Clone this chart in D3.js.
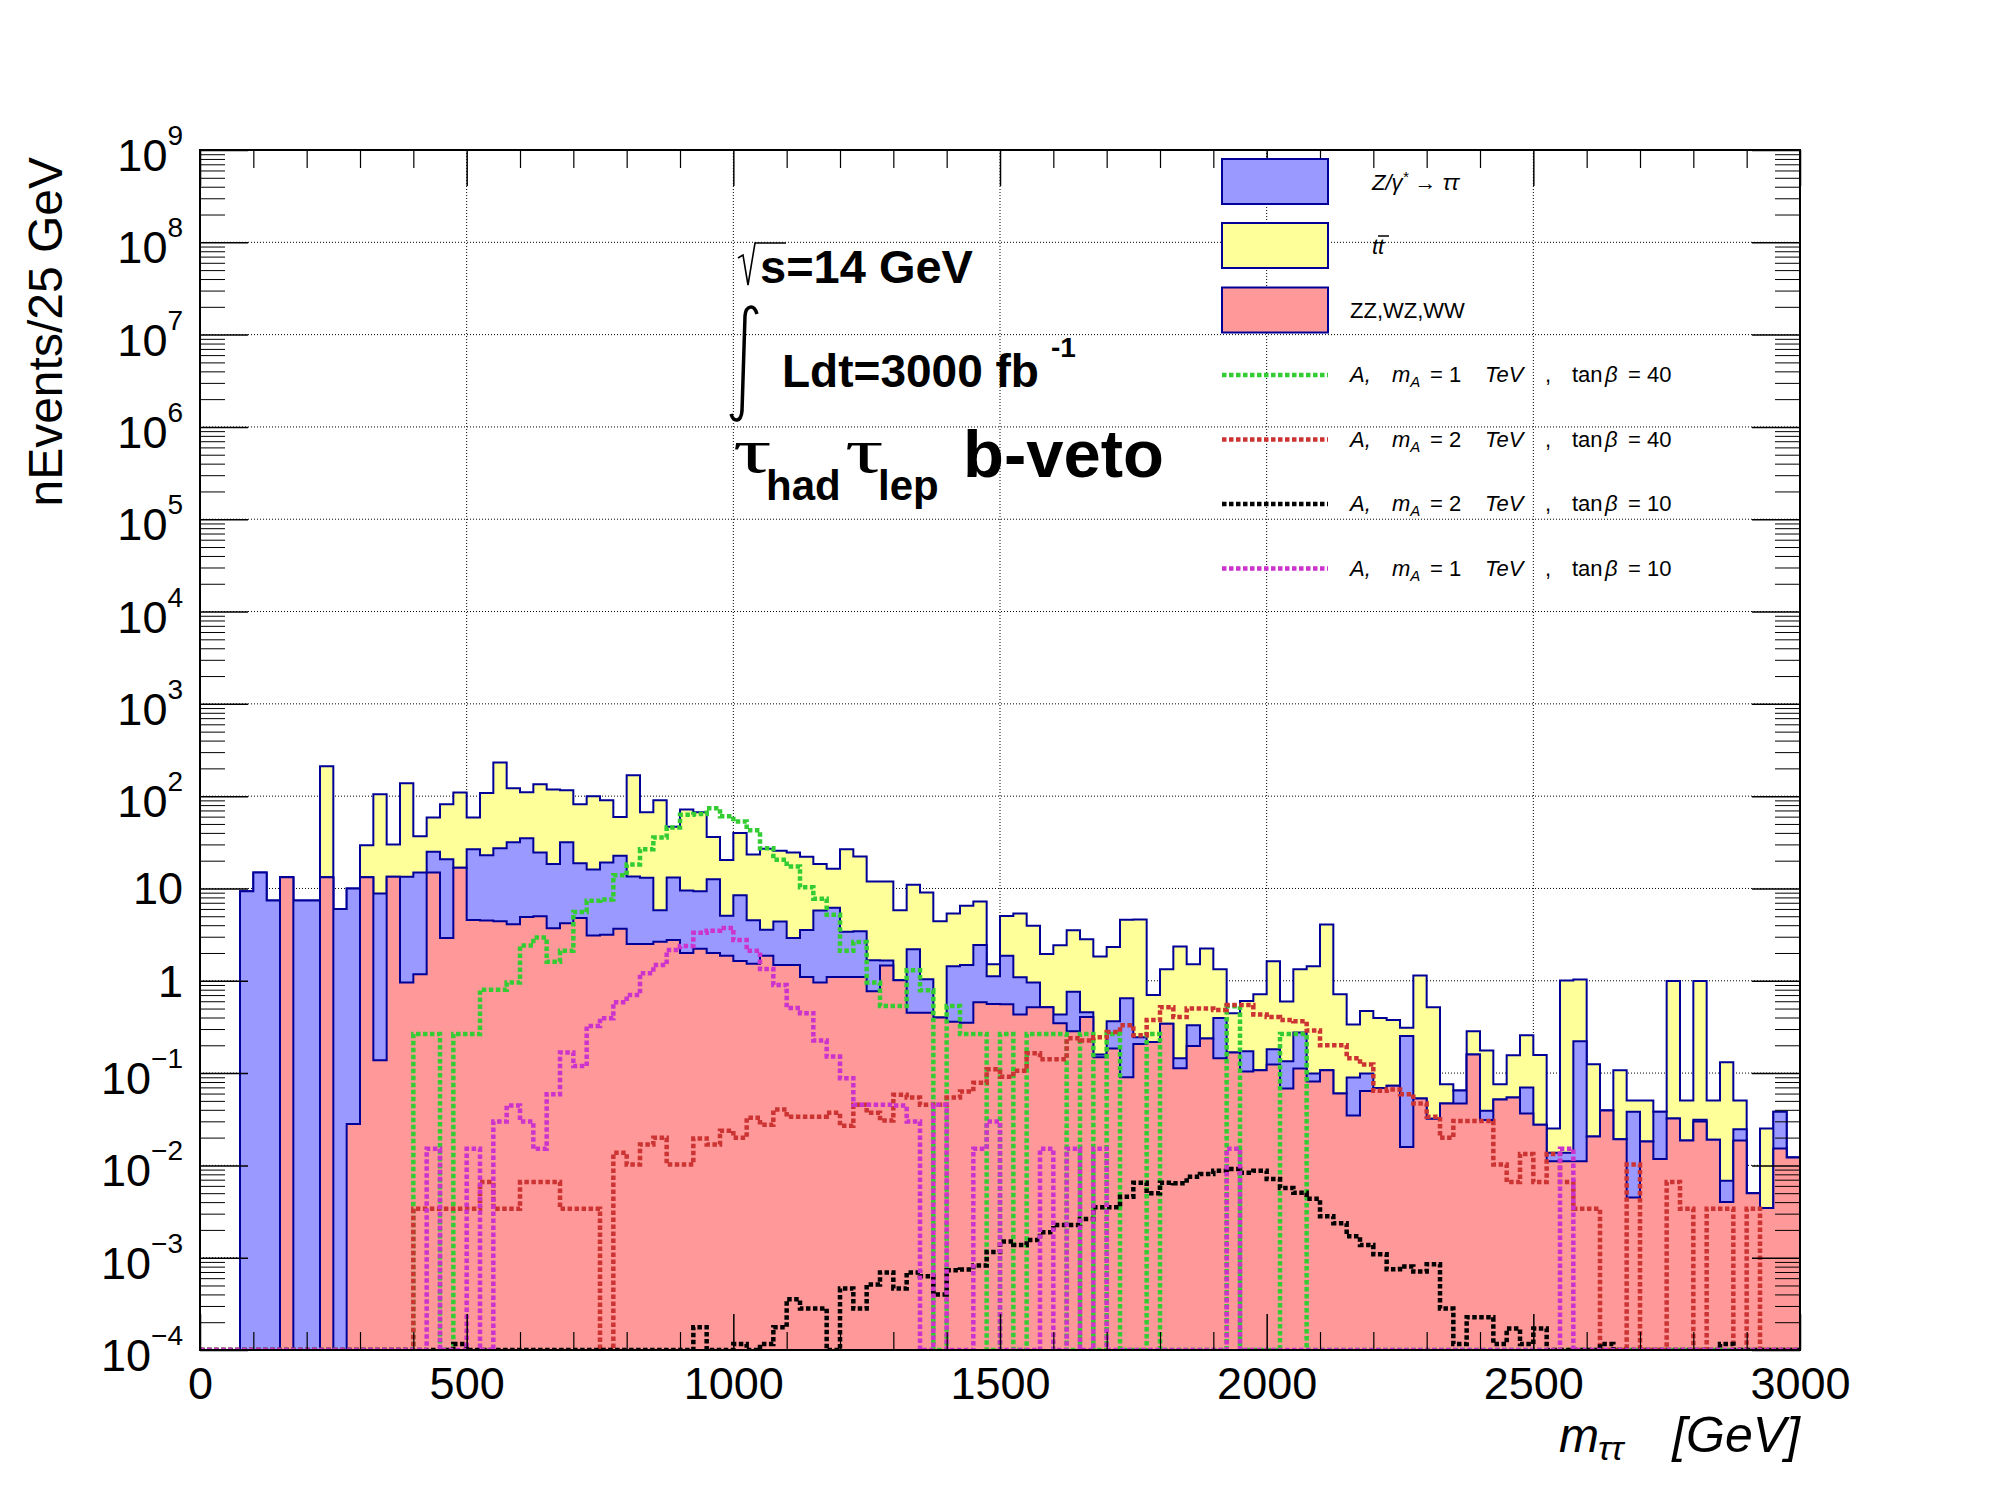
<!DOCTYPE html>
<html lang="en">

<head>
    <meta charset="UTF-8">
    <title>m_tautau b-veto</title>
    <script src="https://d3js.org/d3.v7.min.js"></script>
</head>
<style>
    body {
        margin: 0;
        background: #fff;
    }

    text {
        font-family: "Liberation Sans", Arial, sans-serif;
        fill: #000;
    }
</style>

<body>
    <div id="chart"></div>
    <script>
        // 25 GeV bins, 0 - 3000 GeV
        const binLow = d3.range(0, 3000, 25);

        // stacked backgrounds (events / bin)
        const dibosonVals = [
            0, 0, 0, 0, 0, 0, 13.2, 0, 0, 13.2,
            0, 0.028, 13.2, 0.138, 13.4, 0.96, 1.18, 14.9, 2.9, 16.8,
            4.56, 4.5, 4.4, 4.1, 4.9, 5.0, 3.7, 4.2, 4.8, 3.1,
            3.15, 3.66, 2.5, 2.5, 2.65, 2.76, 2.0, 2.22, 2.0, 1.87,
            1.64, 1.53, 1.87, 1.48, 1.48, 1.1, 0.96, 1.1, 1.1, 1.1,
            0.77, 1.46, 1.01, 0.45, 0.45, 0.40, 0.36, 0.35, 0.585, 0.56,
            0.556, 0.432, 0.518, 0.518, 0.347, 0.284, 0.404, 0.148, 0.185, 0.09,
            0.206, 0.217, 0.343, 0.113, 0.196, 0.237, 0.145, 0.167, 0.104, 0.107,
            0.124, 0.068, 0.112, 0.081, 0.107, 0.06, 0.0346, 0.064, 0.069, 0.073,
            0.0158, 0.0532, 0.032, 0.0468, 0.0468, 0.159, 0.031, 0.0516, 0.0543, 0.0364,
            0.0275, 0.0111, 0.0111, 0.0111, 0.0206, 0.0394, 0.0192, 0.0045, 0.0182, 0.0117,
            0.0322, 0.0186, 0.0298, 0.019, 0.004, 0.0186, 0.005, 0.00345, 0.0152, 0.0122
        ];
        const ztautauVals = [
            0, 0, 0, 9.3, 14.9, 7.4, 0, 7.4, 7.4, 0,
            6.0, 9.97, 0, 8.66, 0, 12.4, 13.7, 10.1, 17.8, 0,
            22, 18.4, 22.8, 27.5, 30, 19.5, 14.7, 27.4, 14, 12.9,
            16, 19, 11, 10.6, 3.15, 10.4, 7.5, 7.1, 10.6, 3.2,
            6.8, 3.0, 1.7, 2.9, 1.42, 2.45, 4.8, 5.1, 2.3, 2.34,
            0.9, 0.2, 0, 1.75, 0.59, 0, 1.08, 1.13, 1.86, 0.56,
            1.31, 0.66, 0.437, 0, 0.085, 0.475, 0.051, 0.011, 0.18, 0.556,
            0.038, 0, 0, 0.032, 0.134, 0, 0.25, 0, 0.068, 0,
            0.057, 0.066, 0.163, 0.018, 0, 0, 0.055, 0.035, 0, 0,
            0.236, 0, 0, 0, 0.018, 0, 0.008, 0, 0, 0.0334,
            0, 0.0026, 0.0026, 0.21, 0, 0, 0, 0.0337, 0, 0.0265,
            0, 0, 0.0015, 0, 0.0028, 0.006, 0, 0, 0.023, 0
        ];
        const ttbarVals = [
            0, 0, 0, 0, 0, 0, 0, 0, 0, 197,
            0, 0, 16.2, 96, 16.6, 125, 21.8, 33.8, 61, 93,
            32, 85, 205, 90, 75, 110, 100, 84, 63, 84,
            71, 36.7, 155, 54, 84.6, 33.5, 62, 57.7, 23.4, 15.3,
            31.4, 18.8, 23.3, 21.2, 21.6, 18.5, 12.6, 10.2, 23.2, 18.8,
            10.2, 10.2, 4.8, 8.8, 8.0, 4.0, 3.9, 5.0, 4.8, 0.39,
            3.18, 4.27, 3.0, 1.43, 2.0, 2.76, 2.37, 1.67, 1.95, 3.95,
            4.36, 0.483, 0.99, 2.2, 1.18, 2.0, 0.935, 0.279, 0.431, 0.607,
            1.45, 0.462, 1.06, 1.34, 3.97, 0.654, 0.247, 0.37, 0.326, 0.303,
            0.058, 1.09, 0.486, 0.029, 0, 0.125, 0.137, 0.024, 0.102, 0.187,
            0.129, 0.0114, 0.996, 0.814, 0.104, 0, 0.088, 0.0124, 0.0324, 0,
            0.961, 0.032, 0.962, 0.0316, 0.124, 0.026, 0, 0.0217, 0, 0
        ];

        // signal A -> tautau
        const sigM1Tb40 = [
            0, 0, 0, 0, 0, 0, 0, 0, 0, 0,
            0, 0, 0, 0, 0, 0, 0.265, 0.265, 0, 0.265,
            0.265, 0.798, 0.798, 0.957, 2.41, 2.94, 1.61, 2.11, 5.57, 7.38,
            7.6, 13.9, 18.2, 26.6, 35.6, 45.8, 63, 64, 74, 60.5,
            53.2, 42.7, 27.2, 20.5, 17.3, 10.3, 7.76, 5.2, 2.11, 2.63,
            0.957, 0.533, 0.533, 1.3, 0.789, 0, 0.533, 0.265, 0.265, 0,
            0.265, 0, 0.265, 0.265, 0.265, 0, 0.265, 0, 0.265, 0,
            0, 0.265, 0, 0, 0, 0, 0, 0.53, 0, 0,
            0, 0.265, 0.265, 0, 0, 0, 0, 0, 0, 0,
            0, 0, 0, 0, 0, 0, 0, 0, 0, 0,
            0, 0, 0, 0, 0, 0, 0, 0, 0, 0,
            0, 0, 0, 0, 0, 0, 0, 0, 0, 0
        ];
        const sigM2Tb40 = [
            0, 0, 0, 0, 0, 0, 0, 0, 0, 0,
            0, 0, 0, 0, 0, 0, 0.00338, 0.00338, 0.00338, 0.00338,
            0.00338, 0.0066, 0.00338, 0.00338, 0.0066, 0.0066, 0.0066, 0.00338, 0.00338, 0.00338,
            0, 0.0137, 0.0102, 0.0168, 0.0199, 0.0102, 0.0102, 0.0196, 0.0168, 0.0237,
            0.0199, 0.0329, 0.0275, 0.0402, 0.0336, 0.0336, 0.0336, 0.0371, 0.0269, 0.0454,
            0.0371, 0.0307, 0.0582, 0.0543, 0.0454, 0.0454, 0.0543, 0.0631, 0.0787, 0.11,
            0.0914, 0.106, 0.164, 0.141, 0.141, 0.239, 0.225, 0.244, 0.279, 0.330,
            0.257, 0.376, 0.518, 0.404, 0.502, 0.502, 0.483, 0.545, 0.545, 0.432,
            0.404, 0.376, 0.365, 0.290, 0.200, 0.200, 0.145, 0.124, 0.0644, 0.0664,
            0.0589, 0.0468, 0.0336, 0.0199, 0.0303, 0.0303, 0.0303, 0.0102, 0.0066, 0.0133,
            0.0066, 0.0133, 0.0066, 0.00338, 0.00338, 0, 0, 0.0102, 0, 0,
            0.0066, 0.00338, 0, 0.00338, 0.00338, 0, 0.00338, 0, 0, 0
        ];
        const sigM2Tb10 = [
            0, 0, 0, 0, 0, 0, 0, 0, 0, 0,
            0, 0, 0, 0, 0, 0, 0, 0, 0, 1.16e-4,
            0, 0, 0, 0, 0, 0, 0, 0, 0, 0,
            0, 0, 0, 0, 0, 0, 0, 1.76e-4, 0, 0,
            1.16e-4, 0, 1.16e-4, 1.76e-4, 3.54e-4, 2.81e-4, 2.81e-4, 0, 4.65e-4, 2.81e-4,
            5.13e-4, 6.93e-4, 4.65e-4, 6.93e-4, 6.28e-4, 4.0e-4, 7.3e-4, 7.45e-4, 8.23e-4, 1.15e-3,
            1.50e-3, 1.37e-3, 1.55e-3, 1.89e-3, 2.26e-3, 2.26e-3, 2.63e-3, 3.52e-3, 3.52e-3, 4.57e-3,
            6.49e-3, 5.0e-3, 6.49e-3, 6.42e-3, 7.54e-3, 8.09e-3, 8.77e-3, 9.12e-3, 8.34e-3, 8.77e-3,
            7.1e-3, 5.69e-3, 5.04e-3, 4.34e-3, 2.82e-3, 2.36e-3, 1.71e-3, 1.37e-3, 1.09e-3, 7.5e-4,
            8.05e-4, 7.08e-4, 8.48e-4, 2.81e-4, 1.16e-4, 2.26e-4, 2.26e-4, 1.16e-4, 1.71e-4, 1.16e-4,
            1.71e-4, 0, 0, 0, 0, 1.16e-4, 0, 0, 0, 0,
            0, 0, 0, 0, 1.16e-4, 0, 0, 0, 0, 0
        ];
        const sigM1Tb10 = [
            0, 0, 0, 0, 0, 0, 0, 0, 0, 0,
            0, 0, 0, 0, 0, 0, 0, 0.0151, 0, 0,
            0.0151, 0, 0.0298, 0.0445, 0.0298, 0.0151, 0.0589, 0.167, 0.119, 0.324,
            0.392, 0.585, 0.70, 1.21, 1.48, 2.15, 2.38, 3.31, 3.48, 3.74,
            2.76, 2.11, 1.34, 0.90, 0.508, 0.446, 0.225, 0.151, 0.0879, 0.0454,
            0.0454, 0.0454, 0.0445, 0.0298, 0, 0.0454, 0, 0, 0.0151, 0.0298,
            0, 0, 0, 0.0151, 0, 0.0151, 0, 0.0151, 0, 0,
            0, 0, 0, 0, 0, 0, 0, 0.0151, 0, 0,
            0, 0, 0, 0, 0, 0, 0, 0, 0, 0,
            0, 0, 0, 0, 0, 0, 0, 0, 0, 0,
            0, 0, 0.0151, 0, 0, 0, 0, 0, 0, 0,
            0, 0, 0, 0, 0, 0, 0, 0, 0, 0
        ];

        // axis ticks
        const massTicks = [0, 500, 1000, 1500, 2000, 2500, 3000];
        const massTickLabels = ["0", "500", "1000", "1500", "2000", "2500", "3000"];
        const massMinorTicks = d3.range(0, 3001, 100).filter(d => d % 500 !== 0);
        const decadeExponents = [-4, -3, -2, -1, 0, 1, 2, 3, 4, 5, 6, 7, 8, 9];

        const margin = { top: 150, right: 200, bottom: 150, left: 200 },
            width = 2000 - margin.left - margin.right,
            height = 1500 - margin.top - margin.bottom;

        const svg = d3.select("#chart")
            .append("svg")
            .attr("width", 2000)
            .attr("height", 1500);

        svg.append("defs").append("clipPath").attr("id", "frameClip")
            .append("rect").attr("x", 0).attr("y", 0).attr("width", width).attr("height", height);

        const plot = svg.append("g")
            .attr("transform", "translate(" + margin.left + "," + margin.top + ")");

        const x = d3.scaleLinear().domain([0, 3000]).range([0, width]);
        const yMin = 1e-4;
        const y = d3.scaleLog().domain([yMin, 1e9]).range([height, 0]);

        // grid (dotted)
        const grid = plot.append("g");
        grid.selectAll(".vgrid").data(massTicks.slice(1, -1)).join("line")
            .attr("x1", d => x(d)).attr("x2", d => x(d))
            .attr("y1", 0).attr("y2", height)
            .attr("stroke", "#000").attr("stroke-width", 1).attr("stroke-dasharray", "1,2");
        grid.selectAll(".hgrid").data(decadeExponents.slice(1, -1)).join("line")
            .attr("x1", 0).attr("x2", width)
            .attr("y1", d => y(Math.pow(10, d))).attr("y2", d => y(Math.pow(10, d)))
            .attr("stroke", "#000").attr("stroke-width", 1).attr("stroke-dasharray", "1,2");

        // stack the backgrounds
        const rows = binLow.map((m, i) => ({
            m: m,
            diboson: dibosonVals[i],
            ztautau: ztautauVals[i],
            ttbar: ttbarVals[i]
        }));
        const stacked = d3.stack().keys(["diboson", "ztautau", "ttbar"])(rows);
        const fills = { diboson: "#ff9999", ztautau: "#9999ff", ttbar: "#ffff99" };

        function stepPoints(vals) {
            return vals.map((v, i) => [binLow[i], v]).concat([[3000, vals[vals.length - 1]]]);
        }
        const clampY = v => y(Math.max(v, yMin));
        const stepArea = d3.area().curve(d3.curveStepAfter)
            .x(d => x(d[0])).y0(height).y1(d => clampY(d[1]));
        const stepLine = d3.line().curve(d3.curveStepAfter)
            .x(d => x(d[0])).y(d => clampY(d[1]));

        const histG = plot.append("g").attr("clip-path", "url(#frameClip)");

        // draw from the top of the stack down, like THStack does
        stacked.slice().reverse().forEach(layer => {
            const pts = stepPoints(layer.map(d => d[1]));
            histG.append("path").datum(pts)
                .attr("fill", fills[layer.key])
                .attr("d", stepArea);
            histG.append("path").datum(pts)
                .attr("fill", "none")
                .attr("stroke", "#000099")
                .attr("stroke-width", 2)
                .attr("d", stepLine);
        });

        const signals = [
            { vals: sigM1Tb40, color: "#33cc33", mass: "1", tanb: "40" },
            { vals: sigM2Tb40, color: "#cc3333", mass: "2", tanb: "40" },
            { vals: sigM2Tb10, color: "#000000", mass: "2", tanb: "10" },
            { vals: sigM1Tb10, color: "#cc33cc", mass: "1", tanb: "10" }
        ];

        signals.forEach(s => {
            histG.append("path").datum(stepPoints(s.vals))
                .attr("fill", "none")
                .attr("stroke", s.color)
                .attr("stroke-width", 4.5)
                .attr("stroke-dasharray", "4.5,2.5")
                .attr("d", stepLine);
        });

        // axes: ROOT style ticks pointing inwards on all four sides
        const minorLog = [];
        decadeExponents.slice(0, -1).forEach(p => {
            for (let k = 2; k <= 9; k++) minorLog.push(k * Math.pow(10, p));
        });
        const cleanAxis = (g, w) => {
            g.select(".domain").remove();
            g.selectAll("line").attr("stroke", "#000").attr("stroke-width", w || 1.5);
        };

        plot.append("g").attr("transform", "translate(0," + height + ")")
            .call(d3.axisBottom(x).tickValues(massTicks).tickSize(-36)
                .tickFormat((d, i) => massTickLabels[i]))
            .call(cleanAxis)
            .call(g => g.selectAll("text")
                .attr("y", 49).attr("dy", null)
                .style("font-size", "45px")
                .style("font-family", "'Liberation Sans', Arial, sans-serif"));
        plot.append("g").attr("transform", "translate(0," + height + ")")
            .call(d3.axisBottom(x).tickValues(massMinorTicks).tickSize(-18).tickFormat(""))
            .call(cleanAxis, 1.2);
        plot.append("g")
            .call(d3.axisTop(x).tickValues(massTicks).tickSize(-36).tickFormat(""))
            .call(cleanAxis);
        plot.append("g")
            .call(d3.axisTop(x).tickValues(massMinorTicks).tickSize(-18).tickFormat(""))
            .call(cleanAxis, 1.2);

        const decadeVals = decadeExponents.map(p => Math.pow(10, p));
        plot.append("g")
            .call(d3.axisLeft(y).tickValues(decadeVals).tickSize(-48).tickFormat(""))
            .call(cleanAxis);
        plot.append("g")
            .call(d3.axisLeft(y).tickValues(minorLog).tickSize(-25).tickFormat(""))
            .call(cleanAxis, 1);
        plot.append("g").attr("transform", "translate(" + width + ",0)")
            .call(d3.axisRight(y).tickValues(decadeVals).tickSize(-48).tickFormat(""))
            .call(cleanAxis);
        plot.append("g").attr("transform", "translate(" + width + ",0)")
            .call(d3.axisRight(y).tickValues(minorLog).tickSize(-25).tickFormat(""))
            .call(cleanAxis, 1);

        // y tick labels 10^n
        const yLab = plot.append("g");
        decadeExponents.forEach(p => {
            const t = yLab.append("text")
                .attr("x", -17)
                .attr("text-anchor", "end")
                .style("font-size", "45px");
            if (p === 0 || p === 1) {
                t.attr("y", y(Math.pow(10, p)) + 16).text(p === 0 ? "1" : "10");
            } else {
                t.attr("y", y(Math.pow(10, p)) + 21);
                t.append("tspan").text("10");
                t.append("tspan").attr("dy", -26).style("font-size", "28px")
                    .text(p < 0 ? "\u2212" + (-p) : String(p));
            }
        });

        // frame
        plot.append("rect")
            .attr("width", width).attr("height", height)
            .attr("fill", "none").attr("stroke", "#000").attr("stroke-width", 2);

        // axis titles
        svg.append("text")
            .attr("transform", "translate(62,157) rotate(-90)")
            .attr("text-anchor", "end")
            .style("font-size", "48px")
            .text("nEvents/25 GeV");

        svg.append("text")
            .attr("x", 1559).attr("y", 1452)
            .style("font-size", "48px").style("font-style", "italic")
            .text("m");
        svg.append("text")
            .attr("x", 1598).attr("y", 1460)
            .style("font-size", "34px").style("font-style", "italic")
            .text("\u03c4\u03c4");
        svg.append("text")
            .attr("x", 1800).attr("y", 1452)
            .attr("text-anchor", "end")
            .style("font-size", "50px").style("font-style", "italic")
            .text("[GeV]");

        // legend
        const legend = svg.append("g");
        const boxEntries = [
            { key: "ztautau", cy: 181.5 },
            { key: "ttbar", cy: 245.5 },
            { key: "diboson", cy: 310 }
        ];
        boxEntries.forEach(e => {
            legend.append("rect")
                .attr("x", 1222).attr("y", e.cy - 22.5)
                .attr("width", 106).attr("height", 45)
                .attr("fill", fills[e.key])
                .attr("stroke", "#000099").attr("stroke-width", 2);
        });

        const zLab = legend.append("text").attr("x", 1372).attr("y", 189.5)
            .style("font-size", "22px").style("font-style", "italic");
        zLab.append("tspan").text("Z/\u03b3");
        zLab.append("tspan").attr("dy", -8).style("font-size", "15px").text("*");
        zLab.append("tspan").attr("dy", 8).text(" \u2192 \u03c4\u03c4");

        legend.append("text").attr("x", 1372).attr("y", 253.5)
            .style("font-size", "22px").style("font-style", "italic")
            .text("tt");
        legend.append("line")
            .attr("x1", 1378).attr("x2", 1389).attr("y1", 236).attr("y2", 236)
            .attr("stroke", "#000").attr("stroke-width", 1.5);

        legend.append("text").attr("x", 1350).attr("y", 318)
            .style("font-size", "22px")
            .text("ZZ,WZ,WW");

        const sigCy = [375, 439.5, 504, 568.5];
        signals.forEach((s, i) => {
            const cy = sigCy[i];
            legend.append("line")
                .attr("x1", 1222).attr("x2", 1328).attr("y1", cy).attr("y2", cy)
                .attr("stroke", s.color).attr("stroke-width", 4.5)
                .attr("stroke-dasharray", "4.5,2.5");
            const t = legend.append("text").attr("y", cy + 7).style("font-size", "22px");
            t.append("tspan").attr("x", 1350).style("font-style", "italic").text("A,");
            t.append("tspan").attr("x", 1392).style("font-style", "italic").text("m");
            t.append("tspan").attr("dy", 5).style("font-size", "15px").style("font-style", "italic").text("A");
            t.append("tspan").attr("x", 1430).attr("dy", -5).text("= " + s.mass);
            t.append("tspan").attr("x", 1485).style("font-style", "italic").text("TeV");
            t.append("tspan").attr("x", 1545).text(",");
            t.append("tspan").attr("x", 1572).text("tan");
            t.append("tspan").attr("x", 1605).style("font-style", "italic").text("\u03b2");
            t.append("tspan").attr("x", 1628).text("= " + s.tanb);
        });

        // annotation text
        const note = svg.append("g");
        note.append("path")
            .attr("d", "M738,258 L743,255 L748,285 L755,243 L786,243")
            .attr("fill", "none").attr("stroke", "#000").attr("stroke-width", 1.6);
        note.append("text").attr("x", 760).attr("y", 283)
            .style("font-size", "47px").style("font-weight", "bold")
            .text("s=14 GeV");

        note.append("path")
            .attr("d", "M757,314 C754,304 746,305 745,316 L742,411 C741,422 734,423 731,414")
            .attr("fill", "none").attr("stroke", "#000").attr("stroke-width", 3.5);
        note.append("text").attr("x", 782).attr("y", 387)
            .style("font-size", "46px").style("font-weight", "bold")
            .text("Ldt=3000 fb");
        note.append("text").attr("x", 1051).attr("y", 357)
            .style("font-size", "28px").style("font-weight", "bold")
            .text("-1");

        // tau_had tau_lep : the greek tau is stretched a bit to look like the Symbol font one
        const tauLine = [
            { t: "\u03c4", x: 733, y: 472, size: 64, tau: true },
            { t: "had", x: 766, y: 500, size: 42, tau: false },
            { t: "\u03c4", x: 845, y: 472, size: 64, tau: true },
            { t: "lep", x: 878, y: 500, size: 42, tau: false },
            { t: "b-veto", x: 963, y: 477, size: 67, tau: false }
        ];
        tauLine.forEach(d => {
            const t = note.append("text")
                .style("font-size", d.size + "px")
                .text(d.t);
            if (d.tau) {
                t.attr("transform", "translate(" + d.x + "," + d.y + ") scale(1.5,1)")
                    .style("font-family", "'Liberation Serif', 'Times New Roman', serif");
            } else {
                t.attr("x", d.x).attr("y", d.y).style("font-weight", "bold");
            }
        });
    </script>

</body>

</html>
